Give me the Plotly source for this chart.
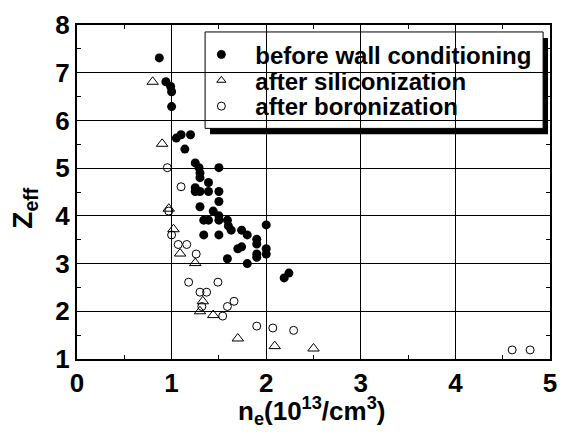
import plotly.graph_objects as go

# n_e in units of 10^13 cm^-3, Z_eff dimensionless
before_ne = [0.87, 0.94, 0.99, 1.00, 1.00, 1.05, 1.10, 1.20, 1.14, 1.25, 1.29, 1.50,
             1.30, 1.30, 1.39, 1.25, 1.25, 1.30, 1.39, 1.50, 1.50, 1.30, 1.44, 1.50,
             1.34, 1.39, 1.50, 1.59, 1.60, 1.63, 1.74, 1.80, 2.00, 1.34, 1.50, 1.90,
             1.90, 1.70, 1.74, 2.00, 2.00, 1.90, 1.90, 1.59, 1.80, 2.19, 2.24]
before_zeff = [7.31, 6.81, 6.71, 6.60, 6.29, 5.63, 5.70, 5.70, 5.40, 5.11, 5.01, 5.01,
               4.90, 4.80, 4.70, 4.59, 4.51, 4.51, 4.51, 4.51, 4.30, 4.19, 4.10, 4.00,
               3.91, 3.91, 3.91, 3.91, 3.79, 3.70, 3.70, 3.60, 3.81, 3.60, 3.60, 3.51,
               3.41, 3.31, 3.35, 3.31, 3.20, 3.20, 3.13, 3.10, 3.00, 2.70, 2.80]

sil_ne = [0.80, 0.90, 0.97, 1.02, 1.09, 1.25, 1.33, 1.30, 1.44, 1.70, 2.09, 2.50]
sil_zeff = [6.81, 5.51, 4.15, 3.72, 3.21, 3.01, 2.21, 2.00, 1.92, 1.43, 1.27, 1.22]

bor_ne = [0.955, 1.10, 0.97, 1.00, 1.07, 1.16, 1.26, 1.18, 1.49, 1.30, 1.37, 1.66,
          1.59, 1.32, 1.54, 1.90, 2.07, 2.29, 4.60, 4.79]
bor_zeff = [5.01, 4.61, 4.10, 3.60, 3.40, 3.40, 3.20, 2.61, 2.61, 2.40, 2.40, 2.21,
            2.10, 2.10, 1.90, 1.69, 1.65, 1.60, 1.19, 1.19]

series_names = ["before wall conditioning", "after siliconization", "after boronization"]
x_ticks = [0, 1, 2, 3, 4, 5]
y_ticks = [1, 2, 3, 4, 5, 6, 7, 8]

W, H = 567, 434
L, R, T, B = 77, 10, 23, 75
PW, PH = W - L - R, H - T - B


def fx(px):
    return (px - L) / PW


def fy(py):
    return (H - B - py) / PH


BOLD = "Liberation Sans, Arial, sans-serif"

fig = go.Figure()

fig.add_trace(go.Scatter(x=before_ne, y=before_zeff, mode="markers", showlegend=False,
                         marker=dict(symbol="circle", size=9, color="black")))
fig.add_trace(go.Scatter(x=sil_ne, y=sil_zeff, mode="markers", showlegend=False,
                         marker=dict(symbol="triangle-up-open", size=10, color="black",
                                     line=dict(width=1, color="black"))))
fig.add_trace(go.Scatter(x=bor_ne, y=bor_zeff, mode="markers", showlegend=False,
                         marker=dict(symbol="circle-open", size=8, color="black",
                                     line=dict(width=1, color="black"))))

# legend entries, one legend per row so the row spacing can be set freely
legend_symbols = ["circle", "triangle-up-open", "circle-open"]
legend_ids = ["legend", "legend2", "legend3"]
row_y = [53, 79, 105]
for name, sym, lid in zip(series_names, legend_symbols, legend_ids):
    fig.add_trace(go.Scatter(x=[None], y=[None], mode="markers", name=name, legend=lid,
                             marker=dict(symbol=sym, size=8, color="black",
                                         line=dict(width=1, color="black"))))

legend_style = dict(bgcolor="rgba(0,0,0,0)", borderwidth=0, itemwidth=58,
                    font=dict(family=BOLD, size=24, color="black", weight="bold"),
                    xanchor="left", yanchor="middle", x=fx(189))
layout_legends = {lid: dict(legend_style, y=fy(ry)) for lid, ry in zip(legend_ids, row_y)}

axis_common = dict(showline=True, linecolor="black", linewidth=2, mirror="ticks",
                   showgrid=True, gridcolor="black", gridwidth=1.2, zeroline=False,
                   ticks="inside", ticklen=5, tickcolor="black", tickwidth=1.2,
                   tickfont=dict(family=BOLD, size=26, color="black", weight="bold"),
                   minor=dict(ticks="inside", ticklen=4, tickcolor="black", tickwidth=1.2,
                              dtick=0.5, showgrid=False))

fig.update_layout(
    width=W, height=H,
    margin=dict(l=L, r=R, t=T, b=B, pad=0),
    paper_bgcolor="white", plot_bgcolor="white",
    xaxis=dict(axis_common, range=[0, 5], tickvals=x_ticks, ticktext=[str(v) for v in x_ticks]),
    yaxis=dict(axis_common, range=[1, 8], tickvals=y_ticks, ticktext=[str(v) for v in y_ticks]),
    **layout_legends,
    shapes=[
        dict(type="rect", xref="paper", yref="paper", layer="between",
             x0=fx(212), x1=fx(555), y0=fy(133), y1=fy(36),
             fillcolor="black", line=dict(width=0)),
        dict(type="rect", xref="paper", yref="paper", layer="between",
             x0=fx(207), x1=fx(550), y0=fy(127), y1=fy(30),
             fillcolor="white", line=dict(width=1, color="black")),
    ],
    annotations=[
        dict(text="n<sub>e</sub>(10<sup>13</sup>/cm<sup>3</sup>)", xref="paper", yref="paper",
             x=fx(315), y=fy(411), xanchor="center", yanchor="middle", showarrow=False,
             font=dict(family=BOLD, size=26, color="black", weight="bold")),
        dict(text="Z<sub>eff</sub>", xref="paper", yref="paper", textangle=-90,
             x=fx(24), y=fy(207), xanchor="center", yanchor="middle", showarrow=False,
             font=dict(family=BOLD, size=28, color="black", weight="bold")),
    ],
)

fig.write_html("out.html")
